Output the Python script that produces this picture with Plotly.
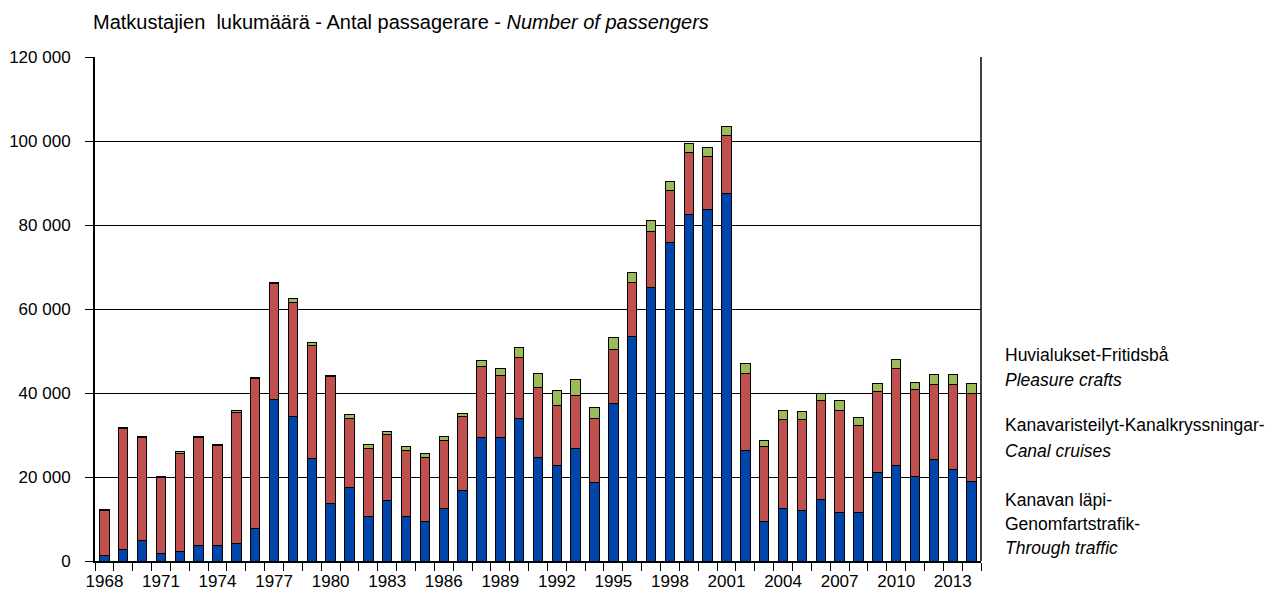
import plotly.graph_objects as go

years = list(range(1968, 2015))

through_traffic = [1400, 2700, 5000, 1800, 2300, 3700, 3700, 4100, 7700, 38400,
                   34300, 24500, 13800, 17400, 10700, 14400, 10700, 9400, 12500, 16900,
                   29500, 29500, 33900, 24600, 22700, 26800, 18800, 37500, 53500, 65200,
                   75800, 82500, 83800, 87400, 26400, 9300, 12500, 12000, 14700, 11600,
                   11600, 21000, 22800, 20200, 24200, 21900, 18900]

canal_cruises = [10700, 28900, 24300, 18000, 23400, 25600, 23700, 31300, 35800, 27600,
                 27300, 26900, 30100, 16600, 16200, 15700, 15700, 15300, 16100, 17400,
                 16800, 14700, 14600, 16800, 14400, 12500, 15100, 12900, 12900, 13200,
                 12400, 14700, 12500, 13800, 18300, 18000, 21100, 21600, 23400, 24200,
                 20600, 19400, 23000, 20600, 17900, 20200, 21100]

pleasure_crafts = [100, 200, 300, 300, 300, 300, 400, 400, 300, 400,
                   800, 700, 300, 800, 800, 800, 900, 800, 1000, 900,
                   1500, 1700, 2300, 3200, 3400, 4000, 2700, 2700, 2300, 2700,
                   2200, 2100, 2200, 2200, 2300, 1500, 2200, 1900, 1700, 2300,
                   1900, 1800, 2200, 1800, 2400, 2400, 2200]

x_tick_years = list(range(1968, 2015, 3))
y_tick_vals = [0, 20000, 40000, 60000, 80000, 100000, 120000]
y_tick_text = ["0", "20 000", "40 000", "60 000", "80 000", "100 000", "120 000"]

title_text = "Matkustajien  lukumäärä - Antal passagerare - <i>Number of passengers</i>"
legend_lines = [
    ("Huvialukset-Fritidsbå", 355),
    ("<i>Pleasure crafts</i>", 380),
    ("Kanavaristeilyt-Kanalkryssningar-", 425),
    ("<i>Canal cruises</i>", 451),
    ("Kanavan läpi-", 500),
    ("Genomfartstrafik-", 524),
    ("<i>Through traffic</i>", 548),
]

FONT = "Liberation Sans, Arial, sans-serif"

fig = go.Figure()
for name, vals, col in [
    ("Through traffic", through_traffic, "#0046AA"),
    ("Canal cruises", canal_cruises, "#C0504D"),
    ("Pleasure crafts", pleasure_crafts, "#9BBB59"),
]:
    fig.add_trace(go.Bar(x=years, y=vals, name=name,
                         marker=dict(color=col, line=dict(color="black", width=1))))

ML, MT, PW, PH = 87, 49, 886, 504

fig.update_layout(
    barmode="stack",
    bargap=0.5,
    width=1282, height=599,
    margin=dict(l=ML, r=1282 - ML - PW, t=MT, b=599 - MT - PH),
    plot_bgcolor="white", paper_bgcolor="white",
    showlegend=False,
    font=dict(family=FONT, size=17, color="black"),
)

fig.update_xaxes(
    range=[1967.5, 2014.5],
    tickvals=x_tick_years,
    ticktext=[str(y) for y in x_tick_years],
    ticks="", showgrid=False,
    showline=True, linecolor="black", linewidth=2,
    tickfont=dict(size=17),
    ticklabelstandoff=4,
    automargin=False,
    minor=dict(tick0=1967.5, dtick=1, ticks="outside", ticklen=8,
               tickcolor="black", tickwidth=1, showgrid=False),
)
fig.update_yaxes(
    range=[0, 120000],
    tickvals=y_tick_vals, ticktext=y_tick_text,
    ticks="outside", ticklen=8, tickcolor="black",
    showgrid=True, gridcolor="black", gridwidth=1,
    showline=True, linecolor="black", linewidth=2,
    tickfont=dict(size=17),
    ticklabelstandoff=11,
    automargin=False,
    zeroline=False,
)

fig.add_shape(type="line", xref="paper", yref="paper", x0=1, x1=1, y0=0, y1=1,
              line=dict(color="black", width=1.5))


def page_y(y):
    return (MT + PH + 8 - y) / PH


def page_x(x):
    return (x - 8 - ML) / PW


fig.add_annotation(text=title_text, xref="paper", yref="paper",
                   x=page_x(91), y=page_y(22), xanchor="left", yanchor="middle",
                   showarrow=False, font=dict(size=20))

for txt, yy in legend_lines:
    fig.add_annotation(text=txt, xref="paper", yref="paper",
                       x=page_x(1003), y=page_y(yy), xanchor="left", yanchor="middle",
                       align="left", showarrow=False, font=dict(size=17.5))

fig.write_html("out.html")
